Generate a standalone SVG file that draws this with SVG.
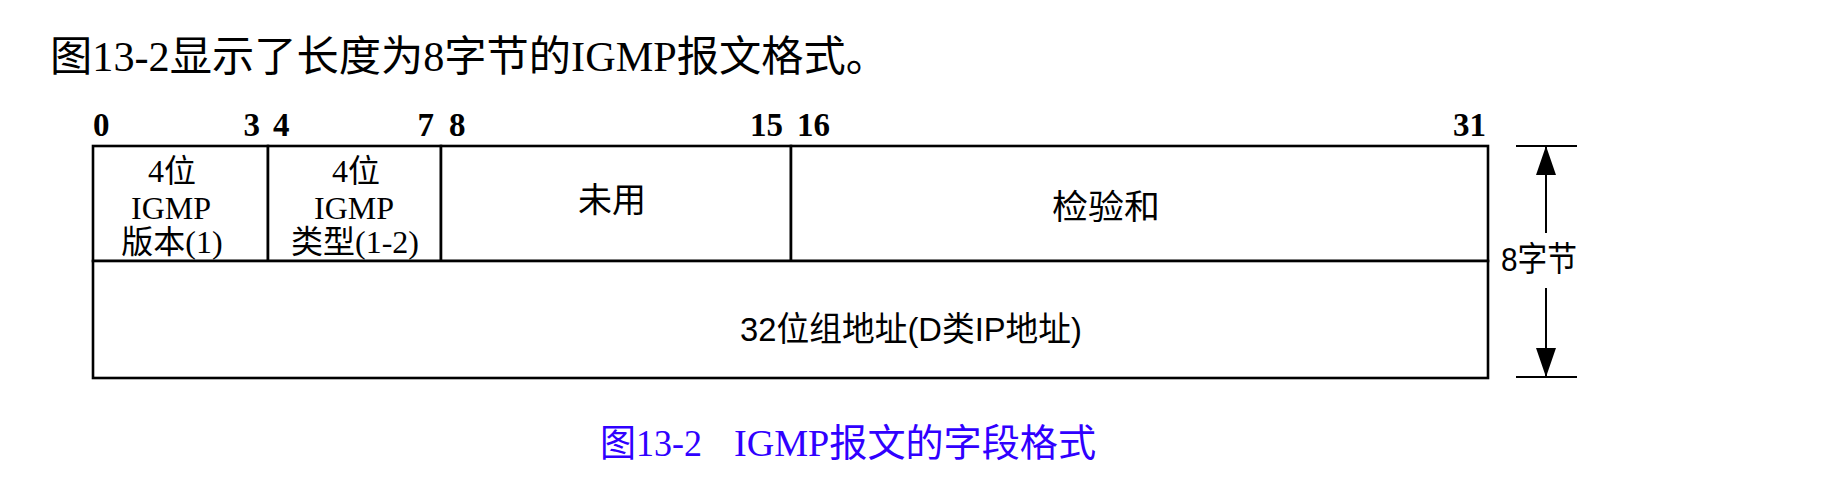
<svg xmlns="http://www.w3.org/2000/svg" width="1839" height="492" viewBox="0 0 1839 492">
<defs>
<style>
.cell{fill:#fff;stroke:#000;stroke-width:2.6}
.bit{font-family:"Liberation Serif","Noto Sans CJK SC",serif;font-weight:bold;font-size:33px;fill:#000}
.ser{font-family:"Liberation Serif","Noto Sans CJK SC",serif;font-size:32px;fill:#000;text-anchor:middle}
.cjk{font-family:"Liberation Sans","Noto Sans CJK SC",sans-serif;font-size:34px;fill:#000;text-anchor:middle}
.title{font-family:"Liberation Serif","Noto Sans CJK SC",serif;font-size:42px;fill:#000}
.cap{font-family:"Liberation Serif","Noto Sans CJK SC",serif;font-size:38px;fill:#3000ff}
.dim{stroke:#000;stroke-width:2;fill:none}
</style>
<marker id="ah" viewBox="0 0 29 20" refX="29" refY="10" markerWidth="29" markerHeight="20" markerUnits="userSpaceOnUse" orient="auto">
<path d="M0,0 L29,10 L0,20 z" fill="#000"/>
</marker>
</defs>
<rect width="1839" height="492" fill="#fff"/>
<text class="title" x="50" y="71" textLength="838" lengthAdjust="spacingAndGlyphs">图13-2显示了长度为8字节的IGMP报文格式。</text>
<g id="bits">
<text class="bit" x="93" y="136">0</text>
<text class="bit" x="260" y="136" text-anchor="end">3</text>
<text class="bit" x="273" y="136">4</text>
<text class="bit" x="434" y="136" text-anchor="end">7</text>
<text class="bit" x="449" y="136">8</text>
<text class="bit" x="783" y="136" text-anchor="end">15</text>
<text class="bit" x="797" y="136">16</text>
<text class="bit" x="1486" y="136" text-anchor="end">31</text>
</g>
<g id="version">
<rect class="cell" x="93" y="146" width="175" height="115"/>
<text class="ser" x="172" y="182">4位</text>
<text class="ser" x="171" y="219">IGMP</text>
<text class="ser" x="172" y="253">版本(1)</text>
</g>
<g id="type">
<rect class="cell" x="268" y="146" width="173" height="115"/>
<text class="ser" x="356" y="182">4位</text>
<text class="ser" x="354" y="219">IGMP</text>
<text class="ser" x="355" y="253">类型(1-2)</text>
</g>
<g id="unused">
<rect class="cell" x="441" y="146" width="350" height="115"/>
<text class="cjk" x="612" y="212">未用</text>
</g>
<g id="checksum">
<rect class="cell" x="791" y="146" width="697" height="115"/>
<text class="cjk" x="1106" y="219" textLength="108" lengthAdjust="spacingAndGlyphs">检验和</text>
</g>
<g id="group-address">
<rect class="cell" x="93" y="261" width="1395" height="117"/>
<text class="cjk" x="911" y="341" textLength="342" lengthAdjust="spacingAndGlyphs">32位组地址(D类IP地址)</text>
</g>
<g id="size-label">
<text class="cjk" x="1539" y="271" font-size="29" textLength="76" lengthAdjust="spacingAndGlyphs">8字节</text>
</g>
<g id="connectors">
<line class="dim" x1="1516" y1="146" x2="1577" y2="146"/>
<line class="dim" x1="1516" y1="377" x2="1577" y2="377"/>
<line class="dim" x1="1546" y1="233" x2="1546" y2="146" marker-end="url(#ah)"/>
<line class="dim" x1="1546" y1="288" x2="1546" y2="377" marker-end="url(#ah)"/>
</g>
<text class="cap" x="600" y="456" textLength="102" lengthAdjust="spacingAndGlyphs">图13-2</text>
<text class="cap" x="734" y="456" textLength="362" lengthAdjust="spacingAndGlyphs">IGMP报文的字段格式</text>
</svg>
